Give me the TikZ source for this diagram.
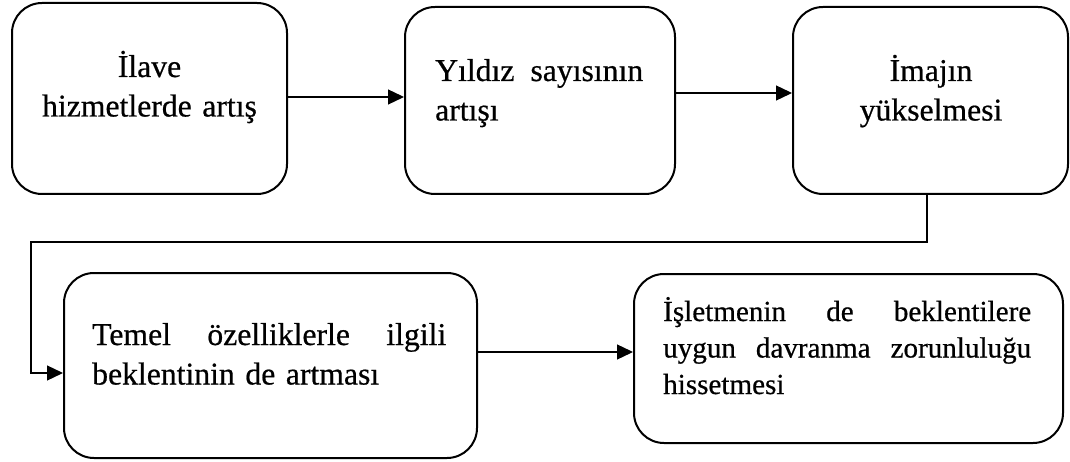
\documentclass[tikz,border=0pt]{standalone}
\usepackage{fontspec}
\setmainfont{Liberation Serif}[FakeBold=0.6]
\usetikzlibrary{arrows.meta,calc}
\begin{document}
\begin{tikzpicture}[x=1pt,y=-1pt,
  box/.style={draw,line width=2pt,rounded corners=30pt,inner sep=0pt},
  conn/.style={line width=1.3pt,-{Triangle[length=16pt,width=15pt]}},
  txt/.style={inner sep=0pt,font=\fontsize{31.7}{39.5}\selectfont},
  smalltxt/.style={inner sep=0pt,font=\fontsize{29.1}{36.5}\selectfont}]
\useasboundingbox (0,0) rectangle (1070,462);
\node[box,minimum width=275pt,minimum height=191pt] (b1) at (149.5,98.5) {};
\node[box,minimum width=270pt,minimum height=187pt] (b2) at (540,100.5) {};
\node[box,minimum width=275pt,minimum height=187pt] (b3) at (930.5,100.5) {};
\node[box,minimum width=413pt,minimum height=185pt] (b4) at (270.5,365.5) {};
\node[box,minimum width=429pt,minimum height=169pt] (b5) at (848.5,358.5) {};
\node[txt,text width=260pt,align=center,anchor=base] (t1) at (149.5,77) {İlave\\hizmetlerde artış};
\node[txt,text width=208pt,align=left,anchor=base west] (t2) at (435,81) {Yıldız\hfill sayısının\\artışı};
\node[txt,text width=260pt,align=center,anchor=base] (t3) at (931,81) {İmajın\\yükselmesi};
\node[txt,text width=354pt,align=left,anchor=base west] (t4) at (92,345) {Temel\hfill özelliklerle\hfill ilgili\\beklentinin de artması};
\node[smalltxt,text width=368pt,align=left,anchor=base west] (t5) at (663,321) {İşletmenin\hfill de\hfill beklentilere\\uygun\hfill davranma\hfill zorunluluğu\\hissetmesi};
\draw[conn] ([yshift=1.5pt]b1.east) -- ([yshift=1.5pt]b1.east -| b2.west);
\draw[conn] ([yshift=7.5pt]b2.east) -- ([yshift=7.5pt]b2.east -| b3.west);
\coordinate (e1) at (31,242);
\draw[conn] ([xshift=-3.5pt]b3.south) |- (e1) |- ([yshift=-7.5pt]b4.west);
\draw[conn] ([yshift=13.5pt]b4.east) -- ([yshift=13.5pt]b4.east -| b5.west);
\end{tikzpicture}
\end{document}
